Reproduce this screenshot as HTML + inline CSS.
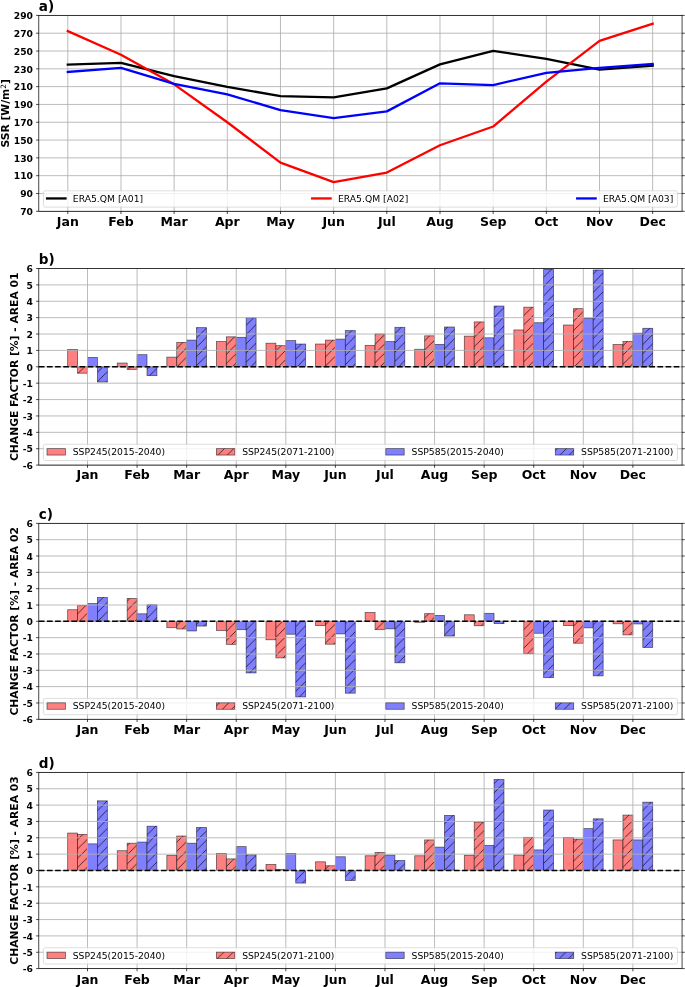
<!DOCTYPE html>
<html lang="en"><head><meta charset="utf-8"><title>SSR climatology and change factors</title>
<style>html,body{margin:0;padding:0;background:#fff}svg{display:block}text{font-family:"DejaVu Sans","Liberation Sans",sans-serif;fill:#000}</style>
</head><body>
<svg width="685" height="987" viewBox="0 0 685 987" style="will-change:transform">
<defs>
<pattern id="hatchb" patternUnits="userSpaceOnUse" width="9.24" height="9.24" patternTransform="translate(7.8 0)"><path d="M-1 1L1 -1M0 9.24L9.24 0M8.24 10.24L10.24 8.24" stroke="#000" stroke-opacity="0.85" stroke-width="0.8" fill="none"/></pattern>
<pattern id="hatchc" patternUnits="userSpaceOnUse" width="9.24" height="9.24" patternTransform="translate(7.6 0)"><path d="M-1 1L1 -1M0 9.24L9.24 0M8.24 10.24L10.24 8.24" stroke="#000" stroke-opacity="0.85" stroke-width="0.8" fill="none"/></pattern>
<pattern id="hatchd" patternUnits="userSpaceOnUse" width="9.24" height="9.24" patternTransform="translate(2.57 0)"><path d="M-1 1L1 -1M0 9.24L9.24 0M8.24 10.24L10.24 8.24" stroke="#000" stroke-opacity="0.85" stroke-width="0.8" fill="none"/></pattern>
<clipPath id="clipb"><rect x="38.8" y="268.5" width="643.25" height="196.6"/></clipPath>
<clipPath id="clipc"><rect x="38.8" y="523.35" width="643.25" height="195.95"/></clipPath>
<clipPath id="clipd"><rect x="38.8" y="772.4" width="643.25" height="196.2"/></clipPath>
</defs>
<rect width="685" height="987" fill="#fff"/>
<path d="M67.8 15.4V211.3M120.97 15.4V211.3M174.14 15.4V211.3M227.31 15.4V211.3M280.48 15.4V211.3M333.65 15.4V211.3M386.82 15.4V211.3M439.99 15.4V211.3M493.16 15.4V211.3M546.33 15.4V211.3M599.5 15.4V211.3M652.67 15.4V211.3M38.8 211.3H682.05M38.8 193.49H682.05M38.8 175.68H682.05M38.8 157.87H682.05M38.8 140.06H682.05M38.8 122.25H682.05M38.8 104.45H682.05M38.8 86.64H682.05M38.8 68.83H682.05M38.8 51.02H682.05M38.8 33.21H682.05M38.8 15.4H682.05" fill="none" stroke="#b0b0b0" stroke-width="0.85"/>
<polyline points="67.8,64.64 120.97,62.86 174.14,76.13 227.31,86.81 280.48,96.16 333.65,97.41 386.82,88.33 439.99,64.38 493.16,50.93 546.33,58.77 599.5,69.54 652.67,65.8" fill="none" stroke="#000" stroke-width="2.3" stroke-linejoin="round" stroke-linecap="square"/>
<polyline points="67.8,31.07 120.97,54.76 174.14,84.32 227.31,122.25 280.48,162.68 333.65,182.18 386.82,172.57 439.99,145.23 493.16,126.53 546.33,81.65 599.5,40.87 652.67,23.77" fill="none" stroke="#f00" stroke-width="2.3" stroke-linejoin="round" stroke-linecap="square"/>
<polyline points="67.8,71.94 120.97,67.85 174.14,83.97 227.31,94.38 280.48,110.14 333.65,118.07 386.82,111.39 439.99,83.34 493.16,85.03 546.33,72.92 599.5,67.85 652.67,64.02" fill="none" stroke="#00f" stroke-width="2.3" stroke-linejoin="round" stroke-linecap="square"/>
<rect x="38.8" y="15.4" width="643.25" height="195.9" fill="none" stroke="#000" stroke-width="0.72"/>
<line x1="67.8" y1="211.3" x2="67.8" y2="213.99" stroke="#000" stroke-width="0.72"/>
<line x1="120.97" y1="211.3" x2="120.97" y2="213.99" stroke="#000" stroke-width="0.72"/>
<line x1="174.14" y1="211.3" x2="174.14" y2="213.99" stroke="#000" stroke-width="0.72"/>
<line x1="227.31" y1="211.3" x2="227.31" y2="213.99" stroke="#000" stroke-width="0.72"/>
<line x1="280.48" y1="211.3" x2="280.48" y2="213.99" stroke="#000" stroke-width="0.72"/>
<line x1="333.65" y1="211.3" x2="333.65" y2="213.99" stroke="#000" stroke-width="0.72"/>
<line x1="386.82" y1="211.3" x2="386.82" y2="213.99" stroke="#000" stroke-width="0.72"/>
<line x1="439.99" y1="211.3" x2="439.99" y2="213.99" stroke="#000" stroke-width="0.72"/>
<line x1="493.16" y1="211.3" x2="493.16" y2="213.99" stroke="#000" stroke-width="0.72"/>
<line x1="546.33" y1="211.3" x2="546.33" y2="213.99" stroke="#000" stroke-width="0.72"/>
<line x1="599.5" y1="211.3" x2="599.5" y2="213.99" stroke="#000" stroke-width="0.72"/>
<line x1="652.67" y1="211.3" x2="652.67" y2="213.99" stroke="#000" stroke-width="0.72"/>
<g font-size="12.5" font-weight="bold" text-anchor="middle">
<text x="67.8" y="225.8">Jan</text>
<text x="120.97" y="225.8">Feb</text>
<text x="174.14" y="225.8">Mar</text>
<text x="227.31" y="225.8">Apr</text>
<text x="280.48" y="225.8">May</text>
<text x="333.65" y="225.8">Jun</text>
<text x="386.82" y="225.8">Jul</text>
<text x="439.99" y="225.8">Aug</text>
<text x="493.16" y="225.8">Sep</text>
<text x="546.33" y="225.8">Oct</text>
<text x="599.5" y="225.8">Nov</text>
<text x="652.67" y="225.8">Dec</text>
</g>
<line x1="36.11" y1="211.3" x2="38.8" y2="211.3" stroke="#000" stroke-width="0.72"/>
<line x1="682.05" y1="211.3" x2="684.74" y2="211.3" stroke="#000" stroke-width="0.72"/>
<line x1="36.11" y1="193.49" x2="38.8" y2="193.49" stroke="#000" stroke-width="0.72"/>
<line x1="682.05" y1="193.49" x2="684.74" y2="193.49" stroke="#000" stroke-width="0.72"/>
<line x1="36.11" y1="175.68" x2="38.8" y2="175.68" stroke="#000" stroke-width="0.72"/>
<line x1="682.05" y1="175.68" x2="684.74" y2="175.68" stroke="#000" stroke-width="0.72"/>
<line x1="36.11" y1="157.87" x2="38.8" y2="157.87" stroke="#000" stroke-width="0.72"/>
<line x1="682.05" y1="157.87" x2="684.74" y2="157.87" stroke="#000" stroke-width="0.72"/>
<line x1="36.11" y1="140.06" x2="38.8" y2="140.06" stroke="#000" stroke-width="0.72"/>
<line x1="682.05" y1="140.06" x2="684.74" y2="140.06" stroke="#000" stroke-width="0.72"/>
<line x1="36.11" y1="122.25" x2="38.8" y2="122.25" stroke="#000" stroke-width="0.72"/>
<line x1="682.05" y1="122.25" x2="684.74" y2="122.25" stroke="#000" stroke-width="0.72"/>
<line x1="36.11" y1="104.45" x2="38.8" y2="104.45" stroke="#000" stroke-width="0.72"/>
<line x1="682.05" y1="104.45" x2="684.74" y2="104.45" stroke="#000" stroke-width="0.72"/>
<line x1="36.11" y1="86.64" x2="38.8" y2="86.64" stroke="#000" stroke-width="0.72"/>
<line x1="682.05" y1="86.64" x2="684.74" y2="86.64" stroke="#000" stroke-width="0.72"/>
<line x1="36.11" y1="68.83" x2="38.8" y2="68.83" stroke="#000" stroke-width="0.72"/>
<line x1="682.05" y1="68.83" x2="684.74" y2="68.83" stroke="#000" stroke-width="0.72"/>
<line x1="36.11" y1="51.02" x2="38.8" y2="51.02" stroke="#000" stroke-width="0.72"/>
<line x1="682.05" y1="51.02" x2="684.74" y2="51.02" stroke="#000" stroke-width="0.72"/>
<line x1="36.11" y1="33.21" x2="38.8" y2="33.21" stroke="#000" stroke-width="0.72"/>
<line x1="682.05" y1="33.21" x2="684.74" y2="33.21" stroke="#000" stroke-width="0.72"/>
<line x1="36.11" y1="15.4" x2="38.8" y2="15.4" stroke="#000" stroke-width="0.72"/>
<line x1="682.05" y1="15.4" x2="684.74" y2="15.4" stroke="#000" stroke-width="0.72"/>
<g font-size="9.2" font-weight="bold" text-anchor="end">
<text x="33.02" y="215">70</text>
<text x="33.02" y="197.19">90</text>
<text x="33.02" y="179.38">110</text>
<text x="33.02" y="161.57">130</text>
<text x="33.02" y="143.76">150</text>
<text x="33.02" y="125.95">170</text>
<text x="33.02" y="108.15">190</text>
<text x="33.02" y="90.34">210</text>
<text x="33.02" y="72.53">230</text>
<text x="33.02" y="54.72">250</text>
<text x="33.02" y="36.91">270</text>
<text x="33.02" y="19.1">290</text>
</g>
<text transform="translate(38.8 11.2) scale(1 1)" font-size="13.6" font-weight="bold">a)</text>
<text transform="translate(8.7 113.35) rotate(-90)" font-size="10.75" font-weight="bold" text-anchor="middle">SSR [W/m<tspan font-size="7.3" font-weight="normal" dy="-3.1">2</tspan><tspan dy="3.1">]</tspan></text>
<rect x="43.4" y="190.8" width="634.05" height="16.3" rx="1.85" ry="1.85" fill="#fff" fill-opacity="0.8" stroke="#ccc" stroke-opacity="0.85" stroke-width="0.77"/>
<g font-size="9.22" fill="#000">
<line x1="47.08" y1="198.45" x2="65.48" y2="198.45" stroke="#000" stroke-width="2.3" stroke-linecap="square"/>
<text x="72.84" y="201.8">ERA5.QM [A01]</text>
<line x1="312.2" y1="198.45" x2="330.6" y2="198.45" stroke="#f00" stroke-width="2.3" stroke-linecap="square"/>
<text x="337.96" y="201.8">ERA5.QM [A02]</text>
<line x1="577.2" y1="198.45" x2="595.6" y2="198.45" stroke="#00f" stroke-width="2.3" stroke-linecap="square"/>
<text x="602.96" y="201.8">ERA5.QM [A03]</text>
</g>
<g clip-path="url(#clipb)">
<rect x="67.67" y="349.43" width="9.92" height="17.37" fill="#ff8080"/>
<rect x="67.67" y="349.43" width="9.92" height="17.37" fill="none" stroke="#000" stroke-opacity="0.6" stroke-width="0.77"/>
<rect x="77.58" y="366.8" width="9.92" height="6.39" fill="#ff8080"/>
<rect x="77.58" y="366.8" width="9.92" height="6.39" fill="url(#hatchb)"/>
<rect x="77.58" y="366.8" width="9.92" height="6.39" fill="none" stroke="#000" stroke-opacity="0.6" stroke-width="0.77"/>
<rect x="87.5" y="357.46" width="9.92" height="9.34" fill="#8080ff"/>
<rect x="87.5" y="357.46" width="9.92" height="9.34" fill="none" stroke="#000" stroke-opacity="0.6" stroke-width="0.77"/>
<rect x="97.42" y="366.8" width="9.92" height="15.24" fill="#8080ff"/>
<rect x="97.42" y="366.8" width="9.92" height="15.24" fill="url(#hatchb)"/>
<rect x="97.42" y="366.8" width="9.92" height="15.24" fill="none" stroke="#000" stroke-opacity="0.6" stroke-width="0.77"/>
<rect x="117.25" y="363.03" width="9.92" height="3.77" fill="#ff8080"/>
<rect x="117.25" y="363.03" width="9.92" height="3.77" fill="none" stroke="#000" stroke-opacity="0.6" stroke-width="0.77"/>
<rect x="127.16" y="366.8" width="9.92" height="2.62" fill="#ff8080"/>
<rect x="127.16" y="366.8" width="9.92" height="2.62" fill="url(#hatchb)"/>
<rect x="127.16" y="366.8" width="9.92" height="2.62" fill="none" stroke="#000" stroke-opacity="0.6" stroke-width="0.77"/>
<rect x="137.08" y="354.68" width="9.92" height="12.12" fill="#8080ff"/>
<rect x="137.08" y="354.68" width="9.92" height="12.12" fill="none" stroke="#000" stroke-opacity="0.6" stroke-width="0.77"/>
<rect x="147" y="366.8" width="9.92" height="8.85" fill="#8080ff"/>
<rect x="147" y="366.8" width="9.92" height="8.85" fill="url(#hatchb)"/>
<rect x="147" y="366.8" width="9.92" height="8.85" fill="none" stroke="#000" stroke-opacity="0.6" stroke-width="0.77"/>
<rect x="166.83" y="357.13" width="9.92" height="9.67" fill="#ff8080"/>
<rect x="166.83" y="357.13" width="9.92" height="9.67" fill="none" stroke="#000" stroke-opacity="0.6" stroke-width="0.77"/>
<rect x="176.74" y="342.39" width="9.92" height="24.41" fill="#ff8080"/>
<rect x="176.74" y="342.39" width="9.92" height="24.41" fill="url(#hatchb)"/>
<rect x="176.74" y="342.39" width="9.92" height="24.41" fill="none" stroke="#000" stroke-opacity="0.6" stroke-width="0.77"/>
<rect x="186.66" y="340.1" width="9.92" height="26.7" fill="#8080ff"/>
<rect x="186.66" y="340.1" width="9.92" height="26.7" fill="none" stroke="#000" stroke-opacity="0.6" stroke-width="0.77"/>
<rect x="196.58" y="327.64" width="9.92" height="39.16" fill="#8080ff"/>
<rect x="196.58" y="327.64" width="9.92" height="39.16" fill="url(#hatchb)"/>
<rect x="196.58" y="327.64" width="9.92" height="39.16" fill="none" stroke="#000" stroke-opacity="0.6" stroke-width="0.77"/>
<rect x="216.41" y="341.57" width="9.92" height="25.23" fill="#ff8080"/>
<rect x="216.41" y="341.57" width="9.92" height="25.23" fill="none" stroke="#000" stroke-opacity="0.6" stroke-width="0.77"/>
<rect x="226.32" y="336.82" width="9.92" height="29.98" fill="#ff8080"/>
<rect x="226.32" y="336.82" width="9.92" height="29.98" fill="url(#hatchb)"/>
<rect x="226.32" y="336.82" width="9.92" height="29.98" fill="none" stroke="#000" stroke-opacity="0.6" stroke-width="0.77"/>
<rect x="236.24" y="337.31" width="9.92" height="29.49" fill="#8080ff"/>
<rect x="236.24" y="337.31" width="9.92" height="29.49" fill="none" stroke="#000" stroke-opacity="0.6" stroke-width="0.77"/>
<rect x="246.16" y="317.81" width="9.92" height="48.99" fill="#8080ff"/>
<rect x="246.16" y="317.81" width="9.92" height="48.99" fill="url(#hatchb)"/>
<rect x="246.16" y="317.81" width="9.92" height="48.99" fill="none" stroke="#000" stroke-opacity="0.6" stroke-width="0.77"/>
<rect x="265.99" y="343.21" width="9.92" height="23.59" fill="#ff8080"/>
<rect x="265.99" y="343.21" width="9.92" height="23.59" fill="none" stroke="#000" stroke-opacity="0.6" stroke-width="0.77"/>
<rect x="275.9" y="345.67" width="9.92" height="21.13" fill="#ff8080"/>
<rect x="275.9" y="345.67" width="9.92" height="21.13" fill="url(#hatchb)"/>
<rect x="275.9" y="345.67" width="9.92" height="21.13" fill="none" stroke="#000" stroke-opacity="0.6" stroke-width="0.77"/>
<rect x="285.82" y="340.59" width="9.92" height="26.21" fill="#8080ff"/>
<rect x="285.82" y="340.59" width="9.92" height="26.21" fill="none" stroke="#000" stroke-opacity="0.6" stroke-width="0.77"/>
<rect x="295.74" y="344.03" width="9.92" height="22.77" fill="#8080ff"/>
<rect x="295.74" y="344.03" width="9.92" height="22.77" fill="url(#hatchb)"/>
<rect x="295.74" y="344.03" width="9.92" height="22.77" fill="none" stroke="#000" stroke-opacity="0.6" stroke-width="0.77"/>
<rect x="315.57" y="344.03" width="9.92" height="22.77" fill="#ff8080"/>
<rect x="315.57" y="344.03" width="9.92" height="22.77" fill="none" stroke="#000" stroke-opacity="0.6" stroke-width="0.77"/>
<rect x="325.48" y="340.1" width="9.92" height="26.7" fill="#ff8080"/>
<rect x="325.48" y="340.1" width="9.92" height="26.7" fill="url(#hatchb)"/>
<rect x="325.48" y="340.1" width="9.92" height="26.7" fill="none" stroke="#000" stroke-opacity="0.6" stroke-width="0.77"/>
<rect x="335.4" y="339.11" width="9.92" height="27.69" fill="#8080ff"/>
<rect x="335.4" y="339.11" width="9.92" height="27.69" fill="none" stroke="#000" stroke-opacity="0.6" stroke-width="0.77"/>
<rect x="345.32" y="330.59" width="9.92" height="36.21" fill="#8080ff"/>
<rect x="345.32" y="330.59" width="9.92" height="36.21" fill="url(#hatchb)"/>
<rect x="345.32" y="330.59" width="9.92" height="36.21" fill="none" stroke="#000" stroke-opacity="0.6" stroke-width="0.77"/>
<rect x="365.15" y="345.34" width="9.92" height="21.46" fill="#ff8080"/>
<rect x="365.15" y="345.34" width="9.92" height="21.46" fill="none" stroke="#000" stroke-opacity="0.6" stroke-width="0.77"/>
<rect x="375.06" y="334.03" width="9.92" height="32.77" fill="#ff8080"/>
<rect x="375.06" y="334.03" width="9.92" height="32.77" fill="url(#hatchb)"/>
<rect x="375.06" y="334.03" width="9.92" height="32.77" fill="none" stroke="#000" stroke-opacity="0.6" stroke-width="0.77"/>
<rect x="384.98" y="341.57" width="9.92" height="25.23" fill="#8080ff"/>
<rect x="384.98" y="341.57" width="9.92" height="25.23" fill="none" stroke="#000" stroke-opacity="0.6" stroke-width="0.77"/>
<rect x="394.9" y="327.32" width="9.92" height="39.48" fill="#8080ff"/>
<rect x="394.9" y="327.32" width="9.92" height="39.48" fill="url(#hatchb)"/>
<rect x="394.9" y="327.32" width="9.92" height="39.48" fill="none" stroke="#000" stroke-opacity="0.6" stroke-width="0.77"/>
<rect x="414.73" y="349.27" width="9.92" height="17.53" fill="#ff8080"/>
<rect x="414.73" y="349.27" width="9.92" height="17.53" fill="none" stroke="#000" stroke-opacity="0.6" stroke-width="0.77"/>
<rect x="424.64" y="335.84" width="9.92" height="30.96" fill="#ff8080"/>
<rect x="424.64" y="335.84" width="9.92" height="30.96" fill="url(#hatchb)"/>
<rect x="424.64" y="335.84" width="9.92" height="30.96" fill="none" stroke="#000" stroke-opacity="0.6" stroke-width="0.77"/>
<rect x="434.56" y="344.35" width="9.92" height="22.45" fill="#8080ff"/>
<rect x="434.56" y="344.35" width="9.92" height="22.45" fill="none" stroke="#000" stroke-opacity="0.6" stroke-width="0.77"/>
<rect x="444.48" y="326.99" width="9.92" height="39.81" fill="#8080ff"/>
<rect x="444.48" y="326.99" width="9.92" height="39.81" fill="url(#hatchb)"/>
<rect x="444.48" y="326.99" width="9.92" height="39.81" fill="none" stroke="#000" stroke-opacity="0.6" stroke-width="0.77"/>
<rect x="464.31" y="336.16" width="9.92" height="30.64" fill="#ff8080"/>
<rect x="464.31" y="336.16" width="9.92" height="30.64" fill="none" stroke="#000" stroke-opacity="0.6" stroke-width="0.77"/>
<rect x="474.22" y="321.91" width="9.92" height="44.89" fill="#ff8080"/>
<rect x="474.22" y="321.91" width="9.92" height="44.89" fill="url(#hatchb)"/>
<rect x="474.22" y="321.91" width="9.92" height="44.89" fill="none" stroke="#000" stroke-opacity="0.6" stroke-width="0.77"/>
<rect x="484.14" y="337.8" width="9.92" height="29" fill="#8080ff"/>
<rect x="484.14" y="337.8" width="9.92" height="29" fill="none" stroke="#000" stroke-opacity="0.6" stroke-width="0.77"/>
<rect x="494.06" y="306.02" width="9.92" height="60.78" fill="#8080ff"/>
<rect x="494.06" y="306.02" width="9.92" height="60.78" fill="url(#hatchb)"/>
<rect x="494.06" y="306.02" width="9.92" height="60.78" fill="none" stroke="#000" stroke-opacity="0.6" stroke-width="0.77"/>
<rect x="513.89" y="329.94" width="9.92" height="36.86" fill="#ff8080"/>
<rect x="513.89" y="329.94" width="9.92" height="36.86" fill="none" stroke="#000" stroke-opacity="0.6" stroke-width="0.77"/>
<rect x="523.8" y="307.16" width="9.92" height="59.64" fill="#ff8080"/>
<rect x="523.8" y="307.16" width="9.92" height="59.64" fill="url(#hatchb)"/>
<rect x="523.8" y="307.16" width="9.92" height="59.64" fill="none" stroke="#000" stroke-opacity="0.6" stroke-width="0.77"/>
<rect x="533.72" y="322.73" width="9.92" height="44.07" fill="#8080ff"/>
<rect x="533.72" y="322.73" width="9.92" height="44.07" fill="none" stroke="#000" stroke-opacity="0.6" stroke-width="0.77"/>
<rect x="543.64" y="269.32" width="9.92" height="97.48" fill="#8080ff"/>
<rect x="543.64" y="269.32" width="9.92" height="97.48" fill="url(#hatchb)"/>
<rect x="543.64" y="269.32" width="9.92" height="97.48" fill="none" stroke="#000" stroke-opacity="0.6" stroke-width="0.77"/>
<rect x="563.47" y="325.02" width="9.92" height="41.78" fill="#ff8080"/>
<rect x="563.47" y="325.02" width="9.92" height="41.78" fill="none" stroke="#000" stroke-opacity="0.6" stroke-width="0.77"/>
<rect x="573.38" y="308.64" width="9.92" height="58.16" fill="#ff8080"/>
<rect x="573.38" y="308.64" width="9.92" height="58.16" fill="url(#hatchb)"/>
<rect x="573.38" y="308.64" width="9.92" height="58.16" fill="none" stroke="#000" stroke-opacity="0.6" stroke-width="0.77"/>
<rect x="583.3" y="318.31" width="9.92" height="48.49" fill="#8080ff"/>
<rect x="583.3" y="318.31" width="9.92" height="48.49" fill="none" stroke="#000" stroke-opacity="0.6" stroke-width="0.77"/>
<rect x="593.22" y="269.97" width="9.92" height="96.83" fill="#8080ff"/>
<rect x="593.22" y="269.97" width="9.92" height="96.83" fill="url(#hatchb)"/>
<rect x="593.22" y="269.97" width="9.92" height="96.83" fill="none" stroke="#000" stroke-opacity="0.6" stroke-width="0.77"/>
<rect x="613.05" y="344.52" width="9.92" height="22.28" fill="#ff8080"/>
<rect x="613.05" y="344.52" width="9.92" height="22.28" fill="none" stroke="#000" stroke-opacity="0.6" stroke-width="0.77"/>
<rect x="622.96" y="341.41" width="9.92" height="25.39" fill="#ff8080"/>
<rect x="622.96" y="341.41" width="9.92" height="25.39" fill="url(#hatchb)"/>
<rect x="622.96" y="341.41" width="9.92" height="25.39" fill="none" stroke="#000" stroke-opacity="0.6" stroke-width="0.77"/>
<rect x="632.88" y="333.21" width="9.92" height="33.59" fill="#8080ff"/>
<rect x="632.88" y="333.21" width="9.92" height="33.59" fill="none" stroke="#000" stroke-opacity="0.6" stroke-width="0.77"/>
<rect x="642.8" y="328.3" width="9.92" height="38.5" fill="#8080ff"/>
<rect x="642.8" y="328.3" width="9.92" height="38.5" fill="url(#hatchb)"/>
<rect x="642.8" y="328.3" width="9.92" height="38.5" fill="none" stroke="#000" stroke-opacity="0.6" stroke-width="0.77"/>
</g>
<path d="M87.5 268.5V465.1M137.08 268.5V465.1M186.66 268.5V465.1M236.24 268.5V465.1M285.82 268.5V465.1M335.4 268.5V465.1M384.98 268.5V465.1M434.56 268.5V465.1M484.14 268.5V465.1M533.72 268.5V465.1M583.3 268.5V465.1M632.88 268.5V465.1M38.8 465.1H682.05M38.8 448.72H682.05M38.8 432.33H682.05M38.8 415.95H682.05M38.8 399.57H682.05M38.8 383.18H682.05M38.8 366.8H682.05M38.8 350.42H682.05M38.8 334.03H682.05M38.8 317.65H682.05M38.8 301.27H682.05M38.8 284.88H682.05M38.8 268.5H682.05" fill="none" stroke="#b0b0b0" stroke-width="0.85"/>
<line x1="38.8" y1="366.8" x2="682.05" y2="366.8" stroke="#000" stroke-width="1.54" stroke-dasharray="5.68 2.46"/>
<rect x="38.8" y="268.5" width="643.25" height="196.6" fill="none" stroke="#000" stroke-width="0.72"/>
<line x1="87.5" y1="465.1" x2="87.5" y2="467.79" stroke="#000" stroke-width="0.72"/>
<line x1="137.08" y1="465.1" x2="137.08" y2="467.79" stroke="#000" stroke-width="0.72"/>
<line x1="186.66" y1="465.1" x2="186.66" y2="467.79" stroke="#000" stroke-width="0.72"/>
<line x1="236.24" y1="465.1" x2="236.24" y2="467.79" stroke="#000" stroke-width="0.72"/>
<line x1="285.82" y1="465.1" x2="285.82" y2="467.79" stroke="#000" stroke-width="0.72"/>
<line x1="335.4" y1="465.1" x2="335.4" y2="467.79" stroke="#000" stroke-width="0.72"/>
<line x1="384.98" y1="465.1" x2="384.98" y2="467.79" stroke="#000" stroke-width="0.72"/>
<line x1="434.56" y1="465.1" x2="434.56" y2="467.79" stroke="#000" stroke-width="0.72"/>
<line x1="484.14" y1="465.1" x2="484.14" y2="467.79" stroke="#000" stroke-width="0.72"/>
<line x1="533.72" y1="465.1" x2="533.72" y2="467.79" stroke="#000" stroke-width="0.72"/>
<line x1="583.3" y1="465.1" x2="583.3" y2="467.79" stroke="#000" stroke-width="0.72"/>
<line x1="632.88" y1="465.1" x2="632.88" y2="467.79" stroke="#000" stroke-width="0.72"/>
<g font-size="12.5" font-weight="bold" text-anchor="middle">
<text x="87.5" y="479.3">Jan</text>
<text x="137.08" y="479.3">Feb</text>
<text x="186.66" y="479.3">Mar</text>
<text x="236.24" y="479.3">Apr</text>
<text x="285.82" y="479.3">May</text>
<text x="335.4" y="479.3">Jun</text>
<text x="384.98" y="479.3">Jul</text>
<text x="434.56" y="479.3">Aug</text>
<text x="484.14" y="479.3">Sep</text>
<text x="533.72" y="479.3">Oct</text>
<text x="583.3" y="479.3">Nov</text>
<text x="632.88" y="479.3">Dec</text>
</g>
<line x1="36.11" y1="465.1" x2="38.8" y2="465.1" stroke="#000" stroke-width="0.72"/>
<line x1="682.05" y1="465.1" x2="684.74" y2="465.1" stroke="#000" stroke-width="0.72"/>
<line x1="36.11" y1="448.72" x2="38.8" y2="448.72" stroke="#000" stroke-width="0.72"/>
<line x1="682.05" y1="448.72" x2="684.74" y2="448.72" stroke="#000" stroke-width="0.72"/>
<line x1="36.11" y1="432.33" x2="38.8" y2="432.33" stroke="#000" stroke-width="0.72"/>
<line x1="682.05" y1="432.33" x2="684.74" y2="432.33" stroke="#000" stroke-width="0.72"/>
<line x1="36.11" y1="415.95" x2="38.8" y2="415.95" stroke="#000" stroke-width="0.72"/>
<line x1="682.05" y1="415.95" x2="684.74" y2="415.95" stroke="#000" stroke-width="0.72"/>
<line x1="36.11" y1="399.57" x2="38.8" y2="399.57" stroke="#000" stroke-width="0.72"/>
<line x1="682.05" y1="399.57" x2="684.74" y2="399.57" stroke="#000" stroke-width="0.72"/>
<line x1="36.11" y1="383.18" x2="38.8" y2="383.18" stroke="#000" stroke-width="0.72"/>
<line x1="682.05" y1="383.18" x2="684.74" y2="383.18" stroke="#000" stroke-width="0.72"/>
<line x1="36.11" y1="366.8" x2="38.8" y2="366.8" stroke="#000" stroke-width="0.72"/>
<line x1="682.05" y1="366.8" x2="684.74" y2="366.8" stroke="#000" stroke-width="0.72"/>
<line x1="36.11" y1="350.42" x2="38.8" y2="350.42" stroke="#000" stroke-width="0.72"/>
<line x1="682.05" y1="350.42" x2="684.74" y2="350.42" stroke="#000" stroke-width="0.72"/>
<line x1="36.11" y1="334.03" x2="38.8" y2="334.03" stroke="#000" stroke-width="0.72"/>
<line x1="682.05" y1="334.03" x2="684.74" y2="334.03" stroke="#000" stroke-width="0.72"/>
<line x1="36.11" y1="317.65" x2="38.8" y2="317.65" stroke="#000" stroke-width="0.72"/>
<line x1="682.05" y1="317.65" x2="684.74" y2="317.65" stroke="#000" stroke-width="0.72"/>
<line x1="36.11" y1="301.27" x2="38.8" y2="301.27" stroke="#000" stroke-width="0.72"/>
<line x1="682.05" y1="301.27" x2="684.74" y2="301.27" stroke="#000" stroke-width="0.72"/>
<line x1="36.11" y1="284.88" x2="38.8" y2="284.88" stroke="#000" stroke-width="0.72"/>
<line x1="682.05" y1="284.88" x2="684.74" y2="284.88" stroke="#000" stroke-width="0.72"/>
<line x1="36.11" y1="268.5" x2="38.8" y2="268.5" stroke="#000" stroke-width="0.72"/>
<line x1="682.05" y1="268.5" x2="684.74" y2="268.5" stroke="#000" stroke-width="0.72"/>
<g font-size="9.2" font-weight="bold" text-anchor="end">
<text x="33.02" y="468.8">-6</text>
<text x="33.02" y="452.42">-5</text>
<text x="33.02" y="436.03">-4</text>
<text x="33.02" y="419.65">-3</text>
<text x="33.02" y="403.27">-2</text>
<text x="33.02" y="386.88">-1</text>
<text x="33.02" y="370.5">0</text>
<text x="33.02" y="354.12">1</text>
<text x="33.02" y="337.73">2</text>
<text x="33.02" y="321.35">3</text>
<text x="33.02" y="304.97">4</text>
<text x="33.02" y="288.58">5</text>
<text x="33.02" y="272.2">6</text>
</g>
<text transform="translate(38.8 263.8) scale(1 1)" font-size="13.6" font-weight="bold">b)</text>
<text transform="translate(18 366.8) rotate(-90)" font-size="10.75" font-weight="bold" text-anchor="middle">CHANGE FACTOR [%] - AREA 01</text>
<rect x="43.4" y="444.2" width="634.05" height="16.3" rx="1.85" ry="1.85" fill="#fff" fill-opacity="0.8" stroke="#ccc" stroke-opacity="0.85" stroke-width="0.77"/>
<g font-size="9.22" fill="#000">
<rect x="47" y="448.63" width="18.4" height="6.44" fill="#ff8080"/>
<rect x="47" y="448.63" width="18.4" height="6.44" fill="none" stroke="#000" stroke-opacity="0.6" stroke-width="0.77"/>
<text x="72.76" y="455.2">SSP245(2015-2040)</text>
<rect x="216.4" y="448.63" width="18.4" height="6.44" fill="#ff8080"/>
<rect x="216.4" y="448.63" width="18.4" height="6.44" fill="url(#hatchb)"/>
<rect x="216.4" y="448.63" width="18.4" height="6.44" fill="none" stroke="#000" stroke-opacity="0.6" stroke-width="0.77"/>
<text x="242.16" y="455.2">SSP245(2071-2100)</text>
<rect x="385.8" y="448.63" width="18.4" height="6.44" fill="#8080ff"/>
<rect x="385.8" y="448.63" width="18.4" height="6.44" fill="none" stroke="#000" stroke-opacity="0.6" stroke-width="0.77"/>
<text x="411.56" y="455.2">SSP585(2015-2040)</text>
<rect x="555.3" y="448.63" width="18.4" height="6.44" fill="#8080ff"/>
<rect x="555.3" y="448.63" width="18.4" height="6.44" fill="url(#hatchb)"/>
<rect x="555.3" y="448.63" width="18.4" height="6.44" fill="none" stroke="#000" stroke-opacity="0.6" stroke-width="0.77"/>
<text x="581.06" y="455.2">SSP585(2071-2100)</text>
</g>
<g clip-path="url(#clipc)">
<rect x="67.67" y="609.73" width="9.92" height="11.59" fill="#ff8080"/>
<rect x="67.67" y="609.73" width="9.92" height="11.59" fill="none" stroke="#000" stroke-opacity="0.6" stroke-width="0.77"/>
<rect x="77.58" y="605.65" width="9.92" height="15.68" fill="#ff8080"/>
<rect x="77.58" y="605.65" width="9.92" height="15.68" fill="url(#hatchc)"/>
<rect x="77.58" y="605.65" width="9.92" height="15.68" fill="none" stroke="#000" stroke-opacity="0.6" stroke-width="0.77"/>
<rect x="87.5" y="603.53" width="9.92" height="17.8" fill="#8080ff"/>
<rect x="87.5" y="603.53" width="9.92" height="17.8" fill="none" stroke="#000" stroke-opacity="0.6" stroke-width="0.77"/>
<rect x="97.42" y="597.48" width="9.92" height="23.84" fill="#8080ff"/>
<rect x="97.42" y="597.48" width="9.92" height="23.84" fill="url(#hatchc)"/>
<rect x="97.42" y="597.48" width="9.92" height="23.84" fill="none" stroke="#000" stroke-opacity="0.6" stroke-width="0.77"/>
<rect x="117.25" y="620.84" width="9.92" height="0.49" fill="#ff8080"/>
<rect x="117.25" y="620.84" width="9.92" height="0.49" fill="none" stroke="#000" stroke-opacity="0.6" stroke-width="0.77"/>
<rect x="127.16" y="598.46" width="9.92" height="22.86" fill="#ff8080"/>
<rect x="127.16" y="598.46" width="9.92" height="22.86" fill="url(#hatchc)"/>
<rect x="127.16" y="598.46" width="9.92" height="22.86" fill="none" stroke="#000" stroke-opacity="0.6" stroke-width="0.77"/>
<rect x="137.08" y="613.81" width="9.92" height="7.51" fill="#8080ff"/>
<rect x="137.08" y="613.81" width="9.92" height="7.51" fill="none" stroke="#000" stroke-opacity="0.6" stroke-width="0.77"/>
<rect x="147" y="604.83" width="9.92" height="16.49" fill="#8080ff"/>
<rect x="147" y="604.83" width="9.92" height="16.49" fill="url(#hatchc)"/>
<rect x="147" y="604.83" width="9.92" height="16.49" fill="none" stroke="#000" stroke-opacity="0.6" stroke-width="0.77"/>
<rect x="166.83" y="621.33" width="9.92" height="6.37" fill="#ff8080"/>
<rect x="166.83" y="621.33" width="9.92" height="6.37" fill="none" stroke="#000" stroke-opacity="0.6" stroke-width="0.77"/>
<rect x="176.74" y="621.33" width="9.92" height="7.67" fill="#ff8080"/>
<rect x="176.74" y="621.33" width="9.92" height="7.67" fill="url(#hatchc)"/>
<rect x="176.74" y="621.33" width="9.92" height="7.67" fill="none" stroke="#000" stroke-opacity="0.6" stroke-width="0.77"/>
<rect x="186.66" y="621.33" width="9.92" height="9.63" fill="#8080ff"/>
<rect x="186.66" y="621.33" width="9.92" height="9.63" fill="none" stroke="#000" stroke-opacity="0.6" stroke-width="0.77"/>
<rect x="196.58" y="621.33" width="9.92" height="4.74" fill="#8080ff"/>
<rect x="196.58" y="621.33" width="9.92" height="4.74" fill="url(#hatchc)"/>
<rect x="196.58" y="621.33" width="9.92" height="4.74" fill="none" stroke="#000" stroke-opacity="0.6" stroke-width="0.77"/>
<rect x="216.41" y="621.33" width="9.92" height="9.14" fill="#ff8080"/>
<rect x="216.41" y="621.33" width="9.92" height="9.14" fill="none" stroke="#000" stroke-opacity="0.6" stroke-width="0.77"/>
<rect x="226.32" y="621.33" width="9.92" height="23.02" fill="#ff8080"/>
<rect x="226.32" y="621.33" width="9.92" height="23.02" fill="url(#hatchc)"/>
<rect x="226.32" y="621.33" width="9.92" height="23.02" fill="none" stroke="#000" stroke-opacity="0.6" stroke-width="0.77"/>
<rect x="236.24" y="621.33" width="9.92" height="8.33" fill="#8080ff"/>
<rect x="236.24" y="621.33" width="9.92" height="8.33" fill="none" stroke="#000" stroke-opacity="0.6" stroke-width="0.77"/>
<rect x="246.16" y="621.33" width="9.92" height="51.6" fill="#8080ff"/>
<rect x="246.16" y="621.33" width="9.92" height="51.6" fill="url(#hatchc)"/>
<rect x="246.16" y="621.33" width="9.92" height="51.6" fill="none" stroke="#000" stroke-opacity="0.6" stroke-width="0.77"/>
<rect x="265.99" y="621.33" width="9.92" height="18.45" fill="#ff8080"/>
<rect x="265.99" y="621.33" width="9.92" height="18.45" fill="none" stroke="#000" stroke-opacity="0.6" stroke-width="0.77"/>
<rect x="275.9" y="621.33" width="9.92" height="36.58" fill="#ff8080"/>
<rect x="275.9" y="621.33" width="9.92" height="36.58" fill="url(#hatchc)"/>
<rect x="275.9" y="621.33" width="9.92" height="36.58" fill="none" stroke="#000" stroke-opacity="0.6" stroke-width="0.77"/>
<rect x="285.82" y="621.33" width="9.92" height="12.9" fill="#8080ff"/>
<rect x="285.82" y="621.33" width="9.92" height="12.9" fill="none" stroke="#000" stroke-opacity="0.6" stroke-width="0.77"/>
<rect x="295.74" y="621.33" width="9.92" height="75.6" fill="#8080ff"/>
<rect x="295.74" y="621.33" width="9.92" height="75.6" fill="url(#hatchc)"/>
<rect x="295.74" y="621.33" width="9.92" height="75.6" fill="none" stroke="#000" stroke-opacity="0.6" stroke-width="0.77"/>
<rect x="315.57" y="621.33" width="9.92" height="4.25" fill="#ff8080"/>
<rect x="315.57" y="621.33" width="9.92" height="4.25" fill="none" stroke="#000" stroke-opacity="0.6" stroke-width="0.77"/>
<rect x="325.48" y="621.33" width="9.92" height="22.86" fill="#ff8080"/>
<rect x="325.48" y="621.33" width="9.92" height="22.86" fill="url(#hatchc)"/>
<rect x="325.48" y="621.33" width="9.92" height="22.86" fill="none" stroke="#000" stroke-opacity="0.6" stroke-width="0.77"/>
<rect x="335.4" y="621.33" width="9.92" height="12.57" fill="#8080ff"/>
<rect x="335.4" y="621.33" width="9.92" height="12.57" fill="none" stroke="#000" stroke-opacity="0.6" stroke-width="0.77"/>
<rect x="345.32" y="621.33" width="9.92" height="71.85" fill="#8080ff"/>
<rect x="345.32" y="621.33" width="9.92" height="71.85" fill="url(#hatchc)"/>
<rect x="345.32" y="621.33" width="9.92" height="71.85" fill="none" stroke="#000" stroke-opacity="0.6" stroke-width="0.77"/>
<rect x="365.15" y="612.51" width="9.92" height="8.82" fill="#ff8080"/>
<rect x="365.15" y="612.51" width="9.92" height="8.82" fill="none" stroke="#000" stroke-opacity="0.6" stroke-width="0.77"/>
<rect x="375.06" y="621.33" width="9.92" height="8.33" fill="#ff8080"/>
<rect x="375.06" y="621.33" width="9.92" height="8.33" fill="url(#hatchc)"/>
<rect x="375.06" y="621.33" width="9.92" height="8.33" fill="none" stroke="#000" stroke-opacity="0.6" stroke-width="0.77"/>
<rect x="384.98" y="621.33" width="9.92" height="7.51" fill="#8080ff"/>
<rect x="384.98" y="621.33" width="9.92" height="7.51" fill="none" stroke="#000" stroke-opacity="0.6" stroke-width="0.77"/>
<rect x="394.9" y="621.33" width="9.92" height="41.48" fill="#8080ff"/>
<rect x="394.9" y="621.33" width="9.92" height="41.48" fill="url(#hatchc)"/>
<rect x="394.9" y="621.33" width="9.92" height="41.48" fill="none" stroke="#000" stroke-opacity="0.6" stroke-width="0.77"/>
<rect x="414.73" y="621.33" width="9.92" height="0.98" fill="#ff8080"/>
<rect x="414.73" y="621.33" width="9.92" height="0.98" fill="none" stroke="#000" stroke-opacity="0.6" stroke-width="0.77"/>
<rect x="424.64" y="613.65" width="9.92" height="7.67" fill="#ff8080"/>
<rect x="424.64" y="613.65" width="9.92" height="7.67" fill="url(#hatchc)"/>
<rect x="424.64" y="613.65" width="9.92" height="7.67" fill="none" stroke="#000" stroke-opacity="0.6" stroke-width="0.77"/>
<rect x="434.56" y="615.45" width="9.92" height="5.88" fill="#8080ff"/>
<rect x="434.56" y="615.45" width="9.92" height="5.88" fill="none" stroke="#000" stroke-opacity="0.6" stroke-width="0.77"/>
<rect x="444.48" y="621.33" width="9.92" height="14.7" fill="#8080ff"/>
<rect x="444.48" y="621.33" width="9.92" height="14.7" fill="url(#hatchc)"/>
<rect x="444.48" y="621.33" width="9.92" height="14.7" fill="none" stroke="#000" stroke-opacity="0.6" stroke-width="0.77"/>
<rect x="464.31" y="614.79" width="9.92" height="6.53" fill="#ff8080"/>
<rect x="464.31" y="614.79" width="9.92" height="6.53" fill="none" stroke="#000" stroke-opacity="0.6" stroke-width="0.77"/>
<rect x="474.22" y="621.33" width="9.92" height="4.41" fill="#ff8080"/>
<rect x="474.22" y="621.33" width="9.92" height="4.41" fill="url(#hatchc)"/>
<rect x="474.22" y="621.33" width="9.92" height="4.41" fill="none" stroke="#000" stroke-opacity="0.6" stroke-width="0.77"/>
<rect x="484.14" y="613.32" width="9.92" height="8" fill="#8080ff"/>
<rect x="484.14" y="613.32" width="9.92" height="8" fill="none" stroke="#000" stroke-opacity="0.6" stroke-width="0.77"/>
<rect x="494.06" y="621.33" width="9.92" height="2.29" fill="#8080ff"/>
<rect x="494.06" y="621.33" width="9.92" height="2.29" fill="url(#hatchc)"/>
<rect x="494.06" y="621.33" width="9.92" height="2.29" fill="none" stroke="#000" stroke-opacity="0.6" stroke-width="0.77"/>
<rect x="513.89" y="621.33" width="9.92" height="0.33" fill="#ff8080"/>
<rect x="513.89" y="621.33" width="9.92" height="0.33" fill="none" stroke="#000" stroke-opacity="0.6" stroke-width="0.77"/>
<rect x="523.8" y="621.33" width="9.92" height="32.33" fill="#ff8080"/>
<rect x="523.8" y="621.33" width="9.92" height="32.33" fill="url(#hatchc)"/>
<rect x="523.8" y="621.33" width="9.92" height="32.33" fill="none" stroke="#000" stroke-opacity="0.6" stroke-width="0.77"/>
<rect x="533.72" y="621.33" width="9.92" height="11.92" fill="#8080ff"/>
<rect x="533.72" y="621.33" width="9.92" height="11.92" fill="none" stroke="#000" stroke-opacity="0.6" stroke-width="0.77"/>
<rect x="543.64" y="621.33" width="9.92" height="56.34" fill="#8080ff"/>
<rect x="543.64" y="621.33" width="9.92" height="56.34" fill="url(#hatchc)"/>
<rect x="543.64" y="621.33" width="9.92" height="56.34" fill="none" stroke="#000" stroke-opacity="0.6" stroke-width="0.77"/>
<rect x="563.47" y="621.33" width="9.92" height="4.25" fill="#ff8080"/>
<rect x="563.47" y="621.33" width="9.92" height="4.25" fill="none" stroke="#000" stroke-opacity="0.6" stroke-width="0.77"/>
<rect x="573.38" y="621.33" width="9.92" height="21.88" fill="#ff8080"/>
<rect x="573.38" y="621.33" width="9.92" height="21.88" fill="url(#hatchc)"/>
<rect x="573.38" y="621.33" width="9.92" height="21.88" fill="none" stroke="#000" stroke-opacity="0.6" stroke-width="0.77"/>
<rect x="583.3" y="621.33" width="9.92" height="6.53" fill="#8080ff"/>
<rect x="583.3" y="621.33" width="9.92" height="6.53" fill="none" stroke="#000" stroke-opacity="0.6" stroke-width="0.77"/>
<rect x="593.22" y="621.33" width="9.92" height="54.54" fill="#8080ff"/>
<rect x="593.22" y="621.33" width="9.92" height="54.54" fill="url(#hatchc)"/>
<rect x="593.22" y="621.33" width="9.92" height="54.54" fill="none" stroke="#000" stroke-opacity="0.6" stroke-width="0.77"/>
<rect x="613.05" y="621.33" width="9.92" height="2.45" fill="#ff8080"/>
<rect x="613.05" y="621.33" width="9.92" height="2.45" fill="none" stroke="#000" stroke-opacity="0.6" stroke-width="0.77"/>
<rect x="622.96" y="621.33" width="9.92" height="13.55" fill="#ff8080"/>
<rect x="622.96" y="621.33" width="9.92" height="13.55" fill="url(#hatchc)"/>
<rect x="622.96" y="621.33" width="9.92" height="13.55" fill="none" stroke="#000" stroke-opacity="0.6" stroke-width="0.77"/>
<rect x="632.88" y="621.33" width="9.92" height="2.61" fill="#8080ff"/>
<rect x="632.88" y="621.33" width="9.92" height="2.61" fill="none" stroke="#000" stroke-opacity="0.6" stroke-width="0.77"/>
<rect x="642.8" y="621.33" width="9.92" height="26.13" fill="#8080ff"/>
<rect x="642.8" y="621.33" width="9.92" height="26.13" fill="url(#hatchc)"/>
<rect x="642.8" y="621.33" width="9.92" height="26.13" fill="none" stroke="#000" stroke-opacity="0.6" stroke-width="0.77"/>
</g>
<path d="M87.5 523.35V719.3M137.08 523.35V719.3M186.66 523.35V719.3M236.24 523.35V719.3M285.82 523.35V719.3M335.4 523.35V719.3M384.98 523.35V719.3M434.56 523.35V719.3M484.14 523.35V719.3M533.72 523.35V719.3M583.3 523.35V719.3M632.88 523.35V719.3M38.8 719.3H682.05M38.8 702.97H682.05M38.8 686.64H682.05M38.8 670.31H682.05M38.8 653.98H682.05M38.8 637.65H682.05M38.8 621.33H682.05M38.8 605H682.05M38.8 588.67H682.05M38.8 572.34H682.05M38.8 556.01H682.05M38.8 539.68H682.05M38.8 523.35H682.05" fill="none" stroke="#b0b0b0" stroke-width="0.85"/>
<line x1="38.8" y1="621.33" x2="682.05" y2="621.33" stroke="#000" stroke-width="1.54" stroke-dasharray="5.68 2.46"/>
<rect x="38.8" y="523.35" width="643.25" height="195.95" fill="none" stroke="#000" stroke-width="0.72"/>
<line x1="87.5" y1="719.3" x2="87.5" y2="721.99" stroke="#000" stroke-width="0.72"/>
<line x1="137.08" y1="719.3" x2="137.08" y2="721.99" stroke="#000" stroke-width="0.72"/>
<line x1="186.66" y1="719.3" x2="186.66" y2="721.99" stroke="#000" stroke-width="0.72"/>
<line x1="236.24" y1="719.3" x2="236.24" y2="721.99" stroke="#000" stroke-width="0.72"/>
<line x1="285.82" y1="719.3" x2="285.82" y2="721.99" stroke="#000" stroke-width="0.72"/>
<line x1="335.4" y1="719.3" x2="335.4" y2="721.99" stroke="#000" stroke-width="0.72"/>
<line x1="384.98" y1="719.3" x2="384.98" y2="721.99" stroke="#000" stroke-width="0.72"/>
<line x1="434.56" y1="719.3" x2="434.56" y2="721.99" stroke="#000" stroke-width="0.72"/>
<line x1="484.14" y1="719.3" x2="484.14" y2="721.99" stroke="#000" stroke-width="0.72"/>
<line x1="533.72" y1="719.3" x2="533.72" y2="721.99" stroke="#000" stroke-width="0.72"/>
<line x1="583.3" y1="719.3" x2="583.3" y2="721.99" stroke="#000" stroke-width="0.72"/>
<line x1="632.88" y1="719.3" x2="632.88" y2="721.99" stroke="#000" stroke-width="0.72"/>
<g font-size="12.5" font-weight="bold" text-anchor="middle">
<text x="87.5" y="734.2">Jan</text>
<text x="137.08" y="734.2">Feb</text>
<text x="186.66" y="734.2">Mar</text>
<text x="236.24" y="734.2">Apr</text>
<text x="285.82" y="734.2">May</text>
<text x="335.4" y="734.2">Jun</text>
<text x="384.98" y="734.2">Jul</text>
<text x="434.56" y="734.2">Aug</text>
<text x="484.14" y="734.2">Sep</text>
<text x="533.72" y="734.2">Oct</text>
<text x="583.3" y="734.2">Nov</text>
<text x="632.88" y="734.2">Dec</text>
</g>
<line x1="36.11" y1="719.3" x2="38.8" y2="719.3" stroke="#000" stroke-width="0.72"/>
<line x1="682.05" y1="719.3" x2="684.74" y2="719.3" stroke="#000" stroke-width="0.72"/>
<line x1="36.11" y1="702.97" x2="38.8" y2="702.97" stroke="#000" stroke-width="0.72"/>
<line x1="682.05" y1="702.97" x2="684.74" y2="702.97" stroke="#000" stroke-width="0.72"/>
<line x1="36.11" y1="686.64" x2="38.8" y2="686.64" stroke="#000" stroke-width="0.72"/>
<line x1="682.05" y1="686.64" x2="684.74" y2="686.64" stroke="#000" stroke-width="0.72"/>
<line x1="36.11" y1="670.31" x2="38.8" y2="670.31" stroke="#000" stroke-width="0.72"/>
<line x1="682.05" y1="670.31" x2="684.74" y2="670.31" stroke="#000" stroke-width="0.72"/>
<line x1="36.11" y1="653.98" x2="38.8" y2="653.98" stroke="#000" stroke-width="0.72"/>
<line x1="682.05" y1="653.98" x2="684.74" y2="653.98" stroke="#000" stroke-width="0.72"/>
<line x1="36.11" y1="637.65" x2="38.8" y2="637.65" stroke="#000" stroke-width="0.72"/>
<line x1="682.05" y1="637.65" x2="684.74" y2="637.65" stroke="#000" stroke-width="0.72"/>
<line x1="36.11" y1="621.33" x2="38.8" y2="621.33" stroke="#000" stroke-width="0.72"/>
<line x1="682.05" y1="621.33" x2="684.74" y2="621.33" stroke="#000" stroke-width="0.72"/>
<line x1="36.11" y1="605" x2="38.8" y2="605" stroke="#000" stroke-width="0.72"/>
<line x1="682.05" y1="605" x2="684.74" y2="605" stroke="#000" stroke-width="0.72"/>
<line x1="36.11" y1="588.67" x2="38.8" y2="588.67" stroke="#000" stroke-width="0.72"/>
<line x1="682.05" y1="588.67" x2="684.74" y2="588.67" stroke="#000" stroke-width="0.72"/>
<line x1="36.11" y1="572.34" x2="38.8" y2="572.34" stroke="#000" stroke-width="0.72"/>
<line x1="682.05" y1="572.34" x2="684.74" y2="572.34" stroke="#000" stroke-width="0.72"/>
<line x1="36.11" y1="556.01" x2="38.8" y2="556.01" stroke="#000" stroke-width="0.72"/>
<line x1="682.05" y1="556.01" x2="684.74" y2="556.01" stroke="#000" stroke-width="0.72"/>
<line x1="36.11" y1="539.68" x2="38.8" y2="539.68" stroke="#000" stroke-width="0.72"/>
<line x1="682.05" y1="539.68" x2="684.74" y2="539.68" stroke="#000" stroke-width="0.72"/>
<line x1="36.11" y1="523.35" x2="38.8" y2="523.35" stroke="#000" stroke-width="0.72"/>
<line x1="682.05" y1="523.35" x2="684.74" y2="523.35" stroke="#000" stroke-width="0.72"/>
<g font-size="9.2" font-weight="bold" text-anchor="end">
<text x="33.02" y="723">-6</text>
<text x="33.02" y="706.67">-5</text>
<text x="33.02" y="690.34">-4</text>
<text x="33.02" y="674.01">-3</text>
<text x="33.02" y="657.68">-2</text>
<text x="33.02" y="641.35">-1</text>
<text x="33.02" y="625.03">0</text>
<text x="33.02" y="608.7">1</text>
<text x="33.02" y="592.37">2</text>
<text x="33.02" y="576.04">3</text>
<text x="33.02" y="559.71">4</text>
<text x="33.02" y="543.38">5</text>
<text x="33.02" y="527.05">6</text>
</g>
<text transform="translate(38.8 518.65) scale(1 1)" font-size="13.6" font-weight="bold">c)</text>
<text transform="translate(18 621.33) rotate(-90)" font-size="10.75" font-weight="bold" text-anchor="middle">CHANGE FACTOR [%] - AREA 02</text>
<rect x="43.4" y="698.4" width="634.05" height="16.3" rx="1.85" ry="1.85" fill="#fff" fill-opacity="0.8" stroke="#ccc" stroke-opacity="0.85" stroke-width="0.77"/>
<g font-size="9.22" fill="#000">
<rect x="47" y="702.83" width="18.4" height="6.44" fill="#ff8080"/>
<rect x="47" y="702.83" width="18.4" height="6.44" fill="none" stroke="#000" stroke-opacity="0.6" stroke-width="0.77"/>
<text x="72.76" y="709.4">SSP245(2015-2040)</text>
<rect x="216.4" y="702.83" width="18.4" height="6.44" fill="#ff8080"/>
<rect x="216.4" y="702.83" width="18.4" height="6.44" fill="url(#hatchc)"/>
<rect x="216.4" y="702.83" width="18.4" height="6.44" fill="none" stroke="#000" stroke-opacity="0.6" stroke-width="0.77"/>
<text x="242.16" y="709.4">SSP245(2071-2100)</text>
<rect x="385.8" y="702.83" width="18.4" height="6.44" fill="#8080ff"/>
<rect x="385.8" y="702.83" width="18.4" height="6.44" fill="none" stroke="#000" stroke-opacity="0.6" stroke-width="0.77"/>
<text x="411.56" y="709.4">SSP585(2015-2040)</text>
<rect x="555.3" y="702.83" width="18.4" height="6.44" fill="#8080ff"/>
<rect x="555.3" y="702.83" width="18.4" height="6.44" fill="url(#hatchc)"/>
<rect x="555.3" y="702.83" width="18.4" height="6.44" fill="none" stroke="#000" stroke-opacity="0.6" stroke-width="0.77"/>
<text x="581.06" y="709.4">SSP585(2071-2100)</text>
</g>
<g clip-path="url(#clipd)">
<rect x="67.67" y="833.06" width="9.92" height="37.44" fill="#ff8080"/>
<rect x="67.67" y="833.06" width="9.92" height="37.44" fill="none" stroke="#000" stroke-opacity="0.6" stroke-width="0.77"/>
<rect x="77.58" y="834.37" width="9.92" height="36.13" fill="#ff8080"/>
<rect x="77.58" y="834.37" width="9.92" height="36.13" fill="url(#hatchd)"/>
<rect x="77.58" y="834.37" width="9.92" height="36.13" fill="none" stroke="#000" stroke-opacity="0.6" stroke-width="0.77"/>
<rect x="87.5" y="843.85" width="9.92" height="26.65" fill="#8080ff"/>
<rect x="87.5" y="843.85" width="9.92" height="26.65" fill="none" stroke="#000" stroke-opacity="0.6" stroke-width="0.77"/>
<rect x="97.42" y="800.85" width="9.92" height="69.65" fill="#8080ff"/>
<rect x="97.42" y="800.85" width="9.92" height="69.65" fill="url(#hatchd)"/>
<rect x="97.42" y="800.85" width="9.92" height="69.65" fill="none" stroke="#000" stroke-opacity="0.6" stroke-width="0.77"/>
<rect x="117.25" y="850.72" width="9.92" height="19.78" fill="#ff8080"/>
<rect x="117.25" y="850.72" width="9.92" height="19.78" fill="none" stroke="#000" stroke-opacity="0.6" stroke-width="0.77"/>
<rect x="127.16" y="843.2" width="9.92" height="27.3" fill="#ff8080"/>
<rect x="127.16" y="843.2" width="9.92" height="27.3" fill="url(#hatchd)"/>
<rect x="127.16" y="843.2" width="9.92" height="27.3" fill="none" stroke="#000" stroke-opacity="0.6" stroke-width="0.77"/>
<rect x="137.08" y="842.05" width="9.92" height="28.45" fill="#8080ff"/>
<rect x="137.08" y="842.05" width="9.92" height="28.45" fill="none" stroke="#000" stroke-opacity="0.6" stroke-width="0.77"/>
<rect x="147" y="826.19" width="9.92" height="44.31" fill="#8080ff"/>
<rect x="147" y="826.19" width="9.92" height="44.31" fill="url(#hatchd)"/>
<rect x="147" y="826.19" width="9.92" height="44.31" fill="none" stroke="#000" stroke-opacity="0.6" stroke-width="0.77"/>
<rect x="166.83" y="855.29" width="9.92" height="15.21" fill="#ff8080"/>
<rect x="166.83" y="855.29" width="9.92" height="15.21" fill="none" stroke="#000" stroke-opacity="0.6" stroke-width="0.77"/>
<rect x="176.74" y="836" width="9.92" height="34.5" fill="#ff8080"/>
<rect x="176.74" y="836" width="9.92" height="34.5" fill="url(#hatchd)"/>
<rect x="176.74" y="836" width="9.92" height="34.5" fill="none" stroke="#000" stroke-opacity="0.6" stroke-width="0.77"/>
<rect x="186.66" y="843.2" width="9.92" height="27.3" fill="#8080ff"/>
<rect x="186.66" y="843.2" width="9.92" height="27.3" fill="none" stroke="#000" stroke-opacity="0.6" stroke-width="0.77"/>
<rect x="196.58" y="827.5" width="9.92" height="43" fill="#8080ff"/>
<rect x="196.58" y="827.5" width="9.92" height="43" fill="url(#hatchd)"/>
<rect x="196.58" y="827.5" width="9.92" height="43" fill="none" stroke="#000" stroke-opacity="0.6" stroke-width="0.77"/>
<rect x="216.41" y="853.5" width="9.92" height="17" fill="#ff8080"/>
<rect x="216.41" y="853.5" width="9.92" height="17" fill="none" stroke="#000" stroke-opacity="0.6" stroke-width="0.77"/>
<rect x="226.32" y="858.89" width="9.92" height="11.61" fill="#ff8080"/>
<rect x="226.32" y="858.89" width="9.92" height="11.61" fill="url(#hatchd)"/>
<rect x="226.32" y="858.89" width="9.92" height="11.61" fill="none" stroke="#000" stroke-opacity="0.6" stroke-width="0.77"/>
<rect x="236.24" y="846.63" width="9.92" height="23.87" fill="#8080ff"/>
<rect x="236.24" y="846.63" width="9.92" height="23.87" fill="none" stroke="#000" stroke-opacity="0.6" stroke-width="0.77"/>
<rect x="246.16" y="854.8" width="9.92" height="15.7" fill="#8080ff"/>
<rect x="246.16" y="854.8" width="9.92" height="15.7" fill="url(#hatchd)"/>
<rect x="246.16" y="854.8" width="9.92" height="15.7" fill="none" stroke="#000" stroke-opacity="0.6" stroke-width="0.77"/>
<rect x="265.99" y="864.45" width="9.92" height="6.05" fill="#ff8080"/>
<rect x="265.99" y="864.45" width="9.92" height="6.05" fill="none" stroke="#000" stroke-opacity="0.6" stroke-width="0.77"/>
<rect x="275.9" y="869.36" width="9.92" height="1.14" fill="#ff8080"/>
<rect x="275.9" y="869.36" width="9.92" height="1.14" fill="url(#hatchd)"/>
<rect x="275.9" y="869.36" width="9.92" height="1.14" fill="none" stroke="#000" stroke-opacity="0.6" stroke-width="0.77"/>
<rect x="285.82" y="853.5" width="9.92" height="17" fill="#8080ff"/>
<rect x="285.82" y="853.5" width="9.92" height="17" fill="none" stroke="#000" stroke-opacity="0.6" stroke-width="0.77"/>
<rect x="295.74" y="870.5" width="9.92" height="12.59" fill="#8080ff"/>
<rect x="295.74" y="870.5" width="9.92" height="12.59" fill="url(#hatchd)"/>
<rect x="295.74" y="870.5" width="9.92" height="12.59" fill="none" stroke="#000" stroke-opacity="0.6" stroke-width="0.77"/>
<rect x="315.57" y="861.83" width="9.92" height="8.67" fill="#ff8080"/>
<rect x="315.57" y="861.83" width="9.92" height="8.67" fill="none" stroke="#000" stroke-opacity="0.6" stroke-width="0.77"/>
<rect x="325.48" y="865.76" width="9.92" height="4.74" fill="#ff8080"/>
<rect x="325.48" y="865.76" width="9.92" height="4.74" fill="url(#hatchd)"/>
<rect x="325.48" y="865.76" width="9.92" height="4.74" fill="none" stroke="#000" stroke-opacity="0.6" stroke-width="0.77"/>
<rect x="335.4" y="856.77" width="9.92" height="13.73" fill="#8080ff"/>
<rect x="335.4" y="856.77" width="9.92" height="13.73" fill="none" stroke="#000" stroke-opacity="0.6" stroke-width="0.77"/>
<rect x="345.32" y="870.5" width="9.92" height="9.97" fill="#8080ff"/>
<rect x="345.32" y="870.5" width="9.92" height="9.97" fill="url(#hatchd)"/>
<rect x="345.32" y="870.5" width="9.92" height="9.97" fill="none" stroke="#000" stroke-opacity="0.6" stroke-width="0.77"/>
<rect x="365.15" y="855.78" width="9.92" height="14.72" fill="#ff8080"/>
<rect x="365.15" y="855.78" width="9.92" height="14.72" fill="none" stroke="#000" stroke-opacity="0.6" stroke-width="0.77"/>
<rect x="375.06" y="852.51" width="9.92" height="17.99" fill="#ff8080"/>
<rect x="375.06" y="852.51" width="9.92" height="17.99" fill="url(#hatchd)"/>
<rect x="375.06" y="852.51" width="9.92" height="17.99" fill="none" stroke="#000" stroke-opacity="0.6" stroke-width="0.77"/>
<rect x="384.98" y="855.13" width="9.92" height="15.37" fill="#8080ff"/>
<rect x="384.98" y="855.13" width="9.92" height="15.37" fill="none" stroke="#000" stroke-opacity="0.6" stroke-width="0.77"/>
<rect x="394.9" y="860.53" width="9.92" height="9.97" fill="#8080ff"/>
<rect x="394.9" y="860.53" width="9.92" height="9.97" fill="url(#hatchd)"/>
<rect x="394.9" y="860.53" width="9.92" height="9.97" fill="none" stroke="#000" stroke-opacity="0.6" stroke-width="0.77"/>
<rect x="414.73" y="855.78" width="9.92" height="14.72" fill="#ff8080"/>
<rect x="414.73" y="855.78" width="9.92" height="14.72" fill="none" stroke="#000" stroke-opacity="0.6" stroke-width="0.77"/>
<rect x="424.64" y="839.93" width="9.92" height="30.57" fill="#ff8080"/>
<rect x="424.64" y="839.93" width="9.92" height="30.57" fill="url(#hatchd)"/>
<rect x="424.64" y="839.93" width="9.92" height="30.57" fill="none" stroke="#000" stroke-opacity="0.6" stroke-width="0.77"/>
<rect x="434.56" y="847.12" width="9.92" height="23.38" fill="#8080ff"/>
<rect x="434.56" y="847.12" width="9.92" height="23.38" fill="none" stroke="#000" stroke-opacity="0.6" stroke-width="0.77"/>
<rect x="444.48" y="815.4" width="9.92" height="55.1" fill="#8080ff"/>
<rect x="444.48" y="815.4" width="9.92" height="55.1" fill="url(#hatchd)"/>
<rect x="444.48" y="815.4" width="9.92" height="55.1" fill="none" stroke="#000" stroke-opacity="0.6" stroke-width="0.77"/>
<rect x="464.31" y="855.29" width="9.92" height="15.21" fill="#ff8080"/>
<rect x="464.31" y="855.29" width="9.92" height="15.21" fill="none" stroke="#000" stroke-opacity="0.6" stroke-width="0.77"/>
<rect x="474.22" y="822.1" width="9.92" height="48.4" fill="#ff8080"/>
<rect x="474.22" y="822.1" width="9.92" height="48.4" fill="url(#hatchd)"/>
<rect x="474.22" y="822.1" width="9.92" height="48.4" fill="none" stroke="#000" stroke-opacity="0.6" stroke-width="0.77"/>
<rect x="484.14" y="845.32" width="9.92" height="25.18" fill="#8080ff"/>
<rect x="484.14" y="845.32" width="9.92" height="25.18" fill="none" stroke="#000" stroke-opacity="0.6" stroke-width="0.77"/>
<rect x="494.06" y="779.43" width="9.92" height="91.07" fill="#8080ff"/>
<rect x="494.06" y="779.43" width="9.92" height="91.07" fill="url(#hatchd)"/>
<rect x="494.06" y="779.43" width="9.92" height="91.07" fill="none" stroke="#000" stroke-opacity="0.6" stroke-width="0.77"/>
<rect x="513.89" y="855.13" width="9.92" height="15.37" fill="#ff8080"/>
<rect x="513.89" y="855.13" width="9.92" height="15.37" fill="none" stroke="#000" stroke-opacity="0.6" stroke-width="0.77"/>
<rect x="523.8" y="837.31" width="9.92" height="33.19" fill="#ff8080"/>
<rect x="523.8" y="837.31" width="9.92" height="33.19" fill="url(#hatchd)"/>
<rect x="523.8" y="837.31" width="9.92" height="33.19" fill="none" stroke="#000" stroke-opacity="0.6" stroke-width="0.77"/>
<rect x="533.72" y="849.9" width="9.92" height="20.6" fill="#8080ff"/>
<rect x="533.72" y="849.9" width="9.92" height="20.6" fill="none" stroke="#000" stroke-opacity="0.6" stroke-width="0.77"/>
<rect x="543.64" y="810" width="9.92" height="60.5" fill="#8080ff"/>
<rect x="543.64" y="810" width="9.92" height="60.5" fill="url(#hatchd)"/>
<rect x="543.64" y="810" width="9.92" height="60.5" fill="none" stroke="#000" stroke-opacity="0.6" stroke-width="0.77"/>
<rect x="563.47" y="837.47" width="9.92" height="33.03" fill="#ff8080"/>
<rect x="563.47" y="837.47" width="9.92" height="33.03" fill="none" stroke="#000" stroke-opacity="0.6" stroke-width="0.77"/>
<rect x="573.38" y="839.11" width="9.92" height="31.39" fill="#ff8080"/>
<rect x="573.38" y="839.11" width="9.92" height="31.39" fill="url(#hatchd)"/>
<rect x="573.38" y="839.11" width="9.92" height="31.39" fill="none" stroke="#000" stroke-opacity="0.6" stroke-width="0.77"/>
<rect x="583.3" y="828.64" width="9.92" height="41.86" fill="#8080ff"/>
<rect x="583.3" y="828.64" width="9.92" height="41.86" fill="none" stroke="#000" stroke-opacity="0.6" stroke-width="0.77"/>
<rect x="593.22" y="818.83" width="9.92" height="51.67" fill="#8080ff"/>
<rect x="593.22" y="818.83" width="9.92" height="51.67" fill="url(#hatchd)"/>
<rect x="593.22" y="818.83" width="9.92" height="51.67" fill="none" stroke="#000" stroke-opacity="0.6" stroke-width="0.77"/>
<rect x="613.05" y="839.93" width="9.92" height="30.57" fill="#ff8080"/>
<rect x="613.05" y="839.93" width="9.92" height="30.57" fill="none" stroke="#000" stroke-opacity="0.6" stroke-width="0.77"/>
<rect x="622.96" y="815.07" width="9.92" height="55.43" fill="#ff8080"/>
<rect x="622.96" y="815.07" width="9.92" height="55.43" fill="url(#hatchd)"/>
<rect x="622.96" y="815.07" width="9.92" height="55.43" fill="none" stroke="#000" stroke-opacity="0.6" stroke-width="0.77"/>
<rect x="632.88" y="839.93" width="9.92" height="30.57" fill="#8080ff"/>
<rect x="632.88" y="839.93" width="9.92" height="30.57" fill="none" stroke="#000" stroke-opacity="0.6" stroke-width="0.77"/>
<rect x="642.8" y="802.16" width="9.92" height="68.34" fill="#8080ff"/>
<rect x="642.8" y="802.16" width="9.92" height="68.34" fill="url(#hatchd)"/>
<rect x="642.8" y="802.16" width="9.92" height="68.34" fill="none" stroke="#000" stroke-opacity="0.6" stroke-width="0.77"/>
</g>
<path d="M87.5 772.4V968.6M137.08 772.4V968.6M186.66 772.4V968.6M236.24 772.4V968.6M285.82 772.4V968.6M335.4 772.4V968.6M384.98 772.4V968.6M434.56 772.4V968.6M484.14 772.4V968.6M533.72 772.4V968.6M583.3 772.4V968.6M632.88 772.4V968.6M38.8 968.6H682.05M38.8 952.25H682.05M38.8 935.9H682.05M38.8 919.55H682.05M38.8 903.2H682.05M38.8 886.85H682.05M38.8 870.5H682.05M38.8 854.15H682.05M38.8 837.8H682.05M38.8 821.45H682.05M38.8 805.1H682.05M38.8 788.75H682.05M38.8 772.4H682.05" fill="none" stroke="#b0b0b0" stroke-width="0.85"/>
<line x1="38.8" y1="870.5" x2="682.05" y2="870.5" stroke="#000" stroke-width="1.54" stroke-dasharray="5.68 2.46"/>
<rect x="38.8" y="772.4" width="643.25" height="196.2" fill="none" stroke="#000" stroke-width="0.72"/>
<line x1="87.5" y1="968.6" x2="87.5" y2="971.29" stroke="#000" stroke-width="0.72"/>
<line x1="137.08" y1="968.6" x2="137.08" y2="971.29" stroke="#000" stroke-width="0.72"/>
<line x1="186.66" y1="968.6" x2="186.66" y2="971.29" stroke="#000" stroke-width="0.72"/>
<line x1="236.24" y1="968.6" x2="236.24" y2="971.29" stroke="#000" stroke-width="0.72"/>
<line x1="285.82" y1="968.6" x2="285.82" y2="971.29" stroke="#000" stroke-width="0.72"/>
<line x1="335.4" y1="968.6" x2="335.4" y2="971.29" stroke="#000" stroke-width="0.72"/>
<line x1="384.98" y1="968.6" x2="384.98" y2="971.29" stroke="#000" stroke-width="0.72"/>
<line x1="434.56" y1="968.6" x2="434.56" y2="971.29" stroke="#000" stroke-width="0.72"/>
<line x1="484.14" y1="968.6" x2="484.14" y2="971.29" stroke="#000" stroke-width="0.72"/>
<line x1="533.72" y1="968.6" x2="533.72" y2="971.29" stroke="#000" stroke-width="0.72"/>
<line x1="583.3" y1="968.6" x2="583.3" y2="971.29" stroke="#000" stroke-width="0.72"/>
<line x1="632.88" y1="968.6" x2="632.88" y2="971.29" stroke="#000" stroke-width="0.72"/>
<g font-size="12.5" font-weight="bold" text-anchor="middle">
<text x="87.5" y="983.9">Jan</text>
<text x="137.08" y="983.9">Feb</text>
<text x="186.66" y="983.9">Mar</text>
<text x="236.24" y="983.9">Apr</text>
<text x="285.82" y="983.9">May</text>
<text x="335.4" y="983.9">Jun</text>
<text x="384.98" y="983.9">Jul</text>
<text x="434.56" y="983.9">Aug</text>
<text x="484.14" y="983.9">Sep</text>
<text x="533.72" y="983.9">Oct</text>
<text x="583.3" y="983.9">Nov</text>
<text x="632.88" y="983.9">Dec</text>
</g>
<line x1="36.11" y1="968.6" x2="38.8" y2="968.6" stroke="#000" stroke-width="0.72"/>
<line x1="682.05" y1="968.6" x2="684.74" y2="968.6" stroke="#000" stroke-width="0.72"/>
<line x1="36.11" y1="952.25" x2="38.8" y2="952.25" stroke="#000" stroke-width="0.72"/>
<line x1="682.05" y1="952.25" x2="684.74" y2="952.25" stroke="#000" stroke-width="0.72"/>
<line x1="36.11" y1="935.9" x2="38.8" y2="935.9" stroke="#000" stroke-width="0.72"/>
<line x1="682.05" y1="935.9" x2="684.74" y2="935.9" stroke="#000" stroke-width="0.72"/>
<line x1="36.11" y1="919.55" x2="38.8" y2="919.55" stroke="#000" stroke-width="0.72"/>
<line x1="682.05" y1="919.55" x2="684.74" y2="919.55" stroke="#000" stroke-width="0.72"/>
<line x1="36.11" y1="903.2" x2="38.8" y2="903.2" stroke="#000" stroke-width="0.72"/>
<line x1="682.05" y1="903.2" x2="684.74" y2="903.2" stroke="#000" stroke-width="0.72"/>
<line x1="36.11" y1="886.85" x2="38.8" y2="886.85" stroke="#000" stroke-width="0.72"/>
<line x1="682.05" y1="886.85" x2="684.74" y2="886.85" stroke="#000" stroke-width="0.72"/>
<line x1="36.11" y1="870.5" x2="38.8" y2="870.5" stroke="#000" stroke-width="0.72"/>
<line x1="682.05" y1="870.5" x2="684.74" y2="870.5" stroke="#000" stroke-width="0.72"/>
<line x1="36.11" y1="854.15" x2="38.8" y2="854.15" stroke="#000" stroke-width="0.72"/>
<line x1="682.05" y1="854.15" x2="684.74" y2="854.15" stroke="#000" stroke-width="0.72"/>
<line x1="36.11" y1="837.8" x2="38.8" y2="837.8" stroke="#000" stroke-width="0.72"/>
<line x1="682.05" y1="837.8" x2="684.74" y2="837.8" stroke="#000" stroke-width="0.72"/>
<line x1="36.11" y1="821.45" x2="38.8" y2="821.45" stroke="#000" stroke-width="0.72"/>
<line x1="682.05" y1="821.45" x2="684.74" y2="821.45" stroke="#000" stroke-width="0.72"/>
<line x1="36.11" y1="805.1" x2="38.8" y2="805.1" stroke="#000" stroke-width="0.72"/>
<line x1="682.05" y1="805.1" x2="684.74" y2="805.1" stroke="#000" stroke-width="0.72"/>
<line x1="36.11" y1="788.75" x2="38.8" y2="788.75" stroke="#000" stroke-width="0.72"/>
<line x1="682.05" y1="788.75" x2="684.74" y2="788.75" stroke="#000" stroke-width="0.72"/>
<line x1="36.11" y1="772.4" x2="38.8" y2="772.4" stroke="#000" stroke-width="0.72"/>
<line x1="682.05" y1="772.4" x2="684.74" y2="772.4" stroke="#000" stroke-width="0.72"/>
<g font-size="9.2" font-weight="bold" text-anchor="end">
<text x="33.02" y="972.3">-6</text>
<text x="33.02" y="955.95">-5</text>
<text x="33.02" y="939.6">-4</text>
<text x="33.02" y="923.25">-3</text>
<text x="33.02" y="906.9">-2</text>
<text x="33.02" y="890.55">-1</text>
<text x="33.02" y="874.2">0</text>
<text x="33.02" y="857.85">1</text>
<text x="33.02" y="841.5">2</text>
<text x="33.02" y="825.15">3</text>
<text x="33.02" y="808.8">4</text>
<text x="33.02" y="792.45">5</text>
<text x="33.02" y="776.1">6</text>
</g>
<text transform="translate(38.8 767.7) scale(1 1)" font-size="13.6" font-weight="bold">d)</text>
<text transform="translate(18 870.5) rotate(-90)" font-size="10.75" font-weight="bold" text-anchor="middle">CHANGE FACTOR [%] - AREA 03</text>
<rect x="43.4" y="947.7" width="634.05" height="16.3" rx="1.85" ry="1.85" fill="#fff" fill-opacity="0.8" stroke="#ccc" stroke-opacity="0.85" stroke-width="0.77"/>
<g font-size="9.22" fill="#000">
<rect x="47" y="952.13" width="18.4" height="6.44" fill="#ff8080"/>
<rect x="47" y="952.13" width="18.4" height="6.44" fill="none" stroke="#000" stroke-opacity="0.6" stroke-width="0.77"/>
<text x="72.76" y="958.7">SSP245(2015-2040)</text>
<rect x="216.4" y="952.13" width="18.4" height="6.44" fill="#ff8080"/>
<rect x="216.4" y="952.13" width="18.4" height="6.44" fill="url(#hatchd)"/>
<rect x="216.4" y="952.13" width="18.4" height="6.44" fill="none" stroke="#000" stroke-opacity="0.6" stroke-width="0.77"/>
<text x="242.16" y="958.7">SSP245(2071-2100)</text>
<rect x="385.8" y="952.13" width="18.4" height="6.44" fill="#8080ff"/>
<rect x="385.8" y="952.13" width="18.4" height="6.44" fill="none" stroke="#000" stroke-opacity="0.6" stroke-width="0.77"/>
<text x="411.56" y="958.7">SSP585(2015-2040)</text>
<rect x="555.3" y="952.13" width="18.4" height="6.44" fill="#8080ff"/>
<rect x="555.3" y="952.13" width="18.4" height="6.44" fill="url(#hatchd)"/>
<rect x="555.3" y="952.13" width="18.4" height="6.44" fill="none" stroke="#000" stroke-opacity="0.6" stroke-width="0.77"/>
<text x="581.06" y="958.7">SSP585(2071-2100)</text>
</g>
</svg>
</body></html>
